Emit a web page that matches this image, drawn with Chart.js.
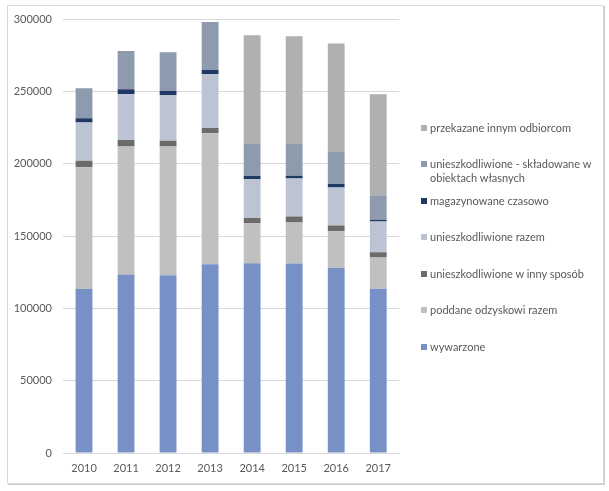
<!DOCTYPE html>
<html>
<head>
<meta charset="utf-8">
<script src="https://cdn.jsdelivr.net/npm/chart.js@4/dist/chart.umd.min.js"></script>
<style>
  html, body { margin: 0; padding: 0; background: #fff; }
  body { width: 609px; height: 491px; position: relative; overflow: hidden; font-family: Lato, "Open Sans", sans-serif; }
  #frame { position: absolute; left: 7px; top: 5px; width: 595px; height: 477px; border: 1px solid #D9D9D9; box-shadow: 1px 1px 0 #CCCCCC; }
  #wrap { position: absolute; left: 0; top: 0; width: 400px; height: 483px; }
  #legend { position: absolute; left: 0; top: 0; width: 609px; height: 491px; pointer-events: none; }
  .li { position: absolute; left: 421px; font-size: 11px; color: #595959; line-height: 14px; white-space: pre-line; }
  .sw { position: absolute; left: 0; top: 4px; width: 6px; height: 6px; }
  .tx { position: absolute; left: 9px; top: 0; width: 180px; }
</style>
</head>
<body>
<div id="frame"></div>
<div id="wrap"><canvas id="c"></canvas></div>
<div id="legend"></div>
<script>
const categories = ['2010', '2011', '2012', '2013', '2014', '2015', '2016', '2017'];

const seriesNames = [
  'wywarzone',
  'poddane odzyskowi razem',
  'unieszkodliwione w inny sposób',
  'unieszkodliwione razem',
  'magazynowane czasowo',
  'unieszkodliwione - składowane w\nobiektach własnych',
  'przekazane innym odbiorcom'
];

const wywarzone            = [113300, 123400, 122900, 130500, 131200, 131000, 128000, 113500];
const poddaneOdzyskowi     = [84200, 88400, 88900, 90500, 27700, 28300, 25300, 21600];
const unieszkInnySposob    = [4600, 4600, 4100, 3700, 3600, 4100, 3900, 3700];
const unieszkRazem         = [26300, 31600, 31600, 37300, 26800, 26300, 26300, 21200];
const magazynowane         = [3000, 3400, 2700, 2700, 2200, 2000, 2500, 1300];
const skladowane           = [20700, 26500, 26800, 33200, 22100, 21900, 22500, 16900];
const przekazane           = [0, 0, 0, 0, 75100, 74400, 74600, 69800];

const yTicks = [0, 50000, 100000, 150000, 200000, 250000, 300000];

const seriesValues = [wywarzone, poddaneOdzyskowi, unieszkInnySposob, unieszkRazem, magazynowane, skladowane, przekazane];
const seriesColors = ['#7790C5', '#C0C0C0', '#6B6B6B', '#BCC4D3', '#1F3864', '#8E9BAF', '#B1AFB0'];

const datasets = seriesNames.map((n, i) => ({
  label: n.replace('\n', ' '),
  data: seriesValues[i],
  backgroundColor: seriesColors[i],
  borderWidth: 0,
  barPercentage: 0.4,
  categoryPercentage: 1.0
}));

new Chart(document.getElementById('c'), {
  type: 'bar',
  data: { labels: categories, datasets },
  options: {
    responsive: true,
    maintainAspectRatio: false,
    animation: false,
    layout: { padding: { top: 19, left: 0, right: 0, bottom: 0 } },
    plugins: { legend: { display: false }, tooltip: { enabled: false } },
    scales: {
      x: {
        stacked: true,
        grid: { display: false, drawTicks: false },
        border: { display: true, color: '#D9D9D9' },
        ticks: { color: '#595959', font: { family: 'Lato', size: 11 }, padding: 9 },
        afterFit: s => { s.height = 30; }
      },
      y: {
        stacked: true,
        min: 0, max: 300000,
        afterBuildTicks: s => { s.ticks = yTicks.map(v => ({ value: v })); },
        grid: { color: '#D9D9D9', drawTicks: false },
        border: { display: false },
        ticks: { color: '#595959', font: { family: 'Lato', size: 11 }, padding: 11, callback: v => String(v) },
        afterFit: s => { s.width = 63; }
      }
    }
  }
});

const legend = document.getElementById('legend');
for (let k = 0; k < seriesNames.length; k++) {
  const i = seriesNames.length - 1 - k;
  const item = document.createElement('div');
  item.className = 'li';
  item.style.top = (120.7 + k * 36.5) + 'px';
  const sw = document.createElement('div');
  sw.className = 'sw';
  sw.style.background = seriesColors[i];
  const tx = document.createElement('div');
  tx.className = 'tx';
  tx.textContent = seriesNames[i];
  item.appendChild(sw);
  item.appendChild(tx);
  legend.appendChild(item);
}
</script>
</body>
</html>
